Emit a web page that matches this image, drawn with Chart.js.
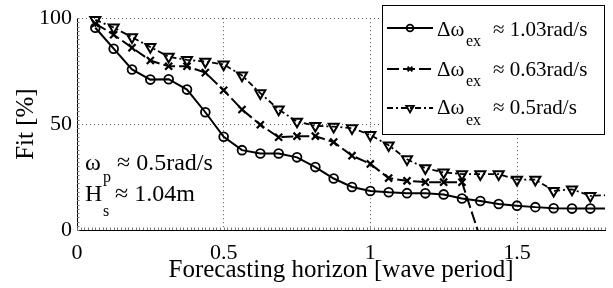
<!DOCTYPE html>
<html><head><meta charset="utf-8">
<script src="https://cdn.jsdelivr.net/npm/chart.js@4"></script>
<style>html,body{margin:0;padding:0;background:#fff;} canvas{display:block;}</style>
</head><body>
<canvas id="c" width="613" height="288"></canvas>
<script>
// ---- data ----
const horizon = [0.0625,0.125,0.1875,0.25,0.3125,0.375,0.4375,0.5,0.5625,0.625,0.6875,0.75,0.8125,0.875,0.9375,1.0,1.0625,1.125,1.1875,1.25,1.3125,1.375,1.4375,1.5,1.5625,1.625,1.6875,1.75,1.8125];
const fit103 = [95.5,85.6,75.8,71.0,71.2,66.3,55.6,44.0,37.7,36.1,36.1,34.3,29.7,24.3,20.3,18.4,17.8,17.4,17.3,16.8,14.9,13.7,12.3,11.5,10.8,10.3,10.1,10.1,10.1];
const fit063 = [97.5,92.2,86.1,80.0,77.3,77.3,74.3,66.0,56.9,49.7,43.8,44.3,44.3,41.5,35.1,31.2,24.5,23.2,22.6,22.6,22.6,-4,null,null,null,null,null,null,null];
const fit05  = [99.2,95.6,91.0,86.4,81.8,80.3,79.5,78.2,73.0,64.6,56.9,51.2,49.2,48.8,48.1,44.9,40.0,33.4,29.2,27.2,26.4,26.4,26.4,23.8,23.8,18.5,19.2,16.1,16.5];
const xTickValues = [0, 0.5, 1, 1.5];
const yTickValues = [0, 50, 100];
const xMinorStep = 0.0125;
const yMinorStep = 2;
const legendValues = ['1.03rad/s', '0.63rad/s', '0.5rad/s'];
const xTitle = 'Forecasting horizon [wave period]';
const yTitle = 'Fit [%]';

const SERIF = '"Liberation Serif", "Times New Roman", serif';
const lastHidden = horizon.map((v, i) => i === horizon.length - 1 ? 0 : 1);

const ds = [
  {label: legendValues[0], data: horizon.map((x,i)=>({x, y: fit103[i]})),
   borderColor:'#000', borderWidth:2, pointStyle:'circle', pointRotation:0,
   pointRadius: lastHidden.map(v=>v*4.4), pointBorderWidth:1.8, pointBackgroundColor:'rgba(0,0,0,0)',
   pointBorderColor:'#000', borderDash:[], tension:0, clip:{left:10, top:10, right:0, bottom:10}},
  {label: legendValues[1], data: horizon.map((x,i)=>({x, y: fit063[i]})),
   borderColor:'#000', borderWidth:2, pointStyle:'crossRot', pointRotation:0,
   pointRadius: 5, pointBorderWidth:2.2, pointBackgroundColor:'rgba(0,0,0,0)',
   pointBorderColor:'#000', borderDash:[12,4], tension:0, spanGaps:false, clip:{left:10, top:10, right:0, bottom:0}},
  {label: legendValues[2], data: horizon.map((x,i)=>({x, y: fit05[i]})),
   borderColor:'#000', borderWidth:1.8, pointStyle:'triangle', pointRotation:180,
   pointRadius: lastHidden.map(v=>v*5.8), pointBorderWidth:2, pointBackgroundColor:'rgba(0,0,0,0)',
   pointBorderColor:'#000', borderDash:[6,3,2,3], tension:0, clip:{left:10, top:10, right:0, bottom:10}}
];

function drawMarker(ctx, style, rotation, radius, bw, x, y) {
  ctx.save();
  ctx.strokeStyle = '#000'; ctx.fillStyle = 'rgba(0,0,0,0)'; ctx.lineWidth = bw; ctx.setLineDash([]);
  Chart.helpers.drawPoint(ctx, {pointStyle: style, rotation: rotation, radius: radius, borderWidth: bw}, x, y);
  ctx.restore();
}

const minorTicks = {
  id: 'minorTicks',
  beforeDatasetsDraw(chart) {
    const ctx = chart.ctx, a = chart.chartArea, xs = chart.scales.x, ys = chart.scales.y;
    ctx.save();
    ctx.strokeStyle = '#777'; ctx.lineWidth = 1; ctx.beginPath();
    for (let v = 0; v <= xs.max + 1e-9; v += xMinorStep) {
      const px = Math.round(xs.getPixelForValue(v)) + 0.5;
      ctx.moveTo(px, a.bottom); ctx.lineTo(px, a.bottom - 2.5);
    }
    for (let v = 0; v <= ys.max + 1e-9; v += yMinorStep) {
      const py = Math.round(ys.getPixelForValue(v)) + 0.5;
      ctx.moveTo(a.left, py); ctx.lineTo(a.left + 2.5, py);
    }
    ctx.stroke();
    ctx.restore();
  }
};

const overlay = {
  id: 'overlay',
  afterDraw(chart) {
    const ctx = chart.ctx;
    const area = chart.chartArea;
    ctx.save();
    ctx.fillStyle = '#000';
    ctx.textBaseline = 'alphabetic';
    ctx.textAlign = 'left';
    const ann = '24px ' + SERIF, annSub = '16px ' + SERIF;
    ctx.font = ann; ctx.fillText('ω', area.left + 8, 170);
    ctx.font = annSub; ctx.fillText('p', area.left + 26, 182);
    ctx.font = ann; ctx.fillText('≈ 0.5rad/s', area.left + 40, 170);
    ctx.font = ann; ctx.fillText('H', area.left + 8, 201);
    ctx.font = annSub; ctx.fillText('s', area.left + 26, 216);
    ctx.font = ann; ctx.fillText('≈ 1.04m', area.left + 38, 201);

    // legend
    const big = '21px ' + SERIF, small = '16px ' + SERIF;
    const bx = 382.5, by = 5.5, bw = area.right - 0.5 - bx, bh = 129;
    ctx.fillStyle = '#fff'; ctx.fillRect(bx, by, bw, bh);
    ctx.strokeStyle = '#000'; ctx.lineWidth = 1; ctx.setLineDash([]); ctx.strokeRect(bx, by, bw, bh);
    const rows = [{ly: 28, base: 36, sub: 46}, {ly: 69, base: 76, sub: 86}, {ly: 108, base: 114, sub: 125}];
    chart.data.datasets.forEach((d, i) => {
      const r = rows[i];
      ctx.save();
      ctx.strokeStyle = '#000'; ctx.lineWidth = d.borderWidth; ctx.setLineDash(d.borderDash);
      ctx.beginPath(); ctx.moveTo(387, r.ly); ctx.lineTo(433, r.ly); ctx.stroke();
      ctx.restore();
      drawMarker(ctx, d.pointStyle, d.pointRotation, d.pointStyle === 'triangle' ? 4.4 : 3.4, 1.8, 410, r.ly);
      ctx.fillStyle = '#000';
      ctx.font = big; ctx.fillText('Δω', 437, r.base);
      ctx.font = small; ctx.fillText('ex', 466, r.sub);
      ctx.font = big; ctx.fillText('≈ ' + d.label, 493, r.base);
    });
    ctx.restore();
  }
};

new Chart(document.getElementById('c'), {
  type: 'line',
  data: {datasets: ds},
  options: {
    responsive: false, animation: false, devicePixelRatio: 1,
    layout: {padding: {left: 0, right: 8, top: 13, bottom: 0}},
    plugins: {legend: {display: false}, tooltip: {enabled: false}},
    scales: {
      x: {
        type: 'linear', min: 0, max: 1.8,
        afterBuildTicks: s => { s.ticks = xTickValues.map(v => ({value: v})); },
        afterFit: s => { s.height = 58; },
        ticks: {color: '#000', font: {family: SERIF, size: 22}, padding: 10, maxRotation: 0,
                callback: v => String(v)},
        grid: {color: c => c.tick && c.tick.value === 0 ? 'rgba(0,0,0,0)' : '#555', lineWidth: 1, drawTicks: false},
        border: {display: true, color: '#000', width: 1, dash: [1, 3]},
        title: {display: true, text: xTitle, color: '#000', font: {family: SERIF, size: 25}, padding: {top: 0, bottom: 3}}
      },
      y: {
        type: 'linear', min: 0, max: 100,
        afterBuildTicks: s => { s.ticks = yTickValues.map(v => ({value: v})); },
        afterFit: s => { s.width = 77; },
        ticks: {color: '#000', font: {family: SERIF, size: 22}, padding: 5, callback: v => String(v)},
        grid: {color: c => c.tick && c.tick.value === 0 ? 'rgba(0,0,0,0)' : '#555', lineWidth: 1, drawTicks: false},
        border: {display: true, color: '#000', width: 1, dash: [1, 3]},
        title: {display: true, text: yTitle, color: '#000', font: {family: SERIF, size: 25}, padding: {top: 11, bottom: 0}}
      }
    }
  },
  plugins: [minorTicks, overlay]
});
</script>
</body></html>
